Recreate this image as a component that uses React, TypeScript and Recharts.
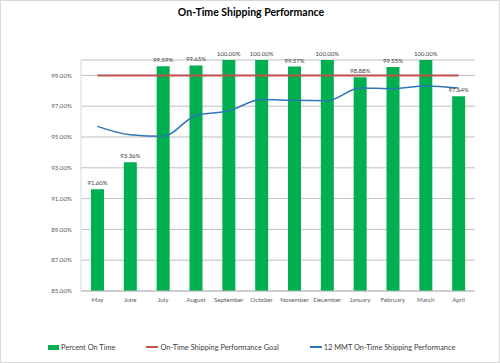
import React from "react";
import {
  Bar,
  CartesianGrid,
  ComposedChart,
  LabelList,
  Legend,
  Line,
  XAxis,
  YAxis,
} from "recharts";

const months = ["May", "June", "July", "August", "September", "October", "November", "December", "January", "February", "March", "April"];
const percentOnTime = [91.6, 93.36, 99.59, 99.65, 100, 100, 99.57, 100, 98.88, 99.55, 100, 97.64];
const goal = [99, 99, 99, 99, 99, 99, 99, 99, 99, 99, 99, 99];
const mmt12 = [95.69, 95.15, 95.05, 96.4, 96.7, 97.44, 97.38, 97.36, 98.18, 98.14, 98.31, 98.18];
const yTicks = [85, 87, 89, 91, 93, 95, 97, 99];

const data = months.map((month, i) => ({
  month,
  onTime: percentOnTime[i],
  goal: goal[i],
  mmt: mmt12[i],
}));

const font = "Lato, 'Open Sans', sans-serif";
const axisText = { fontSize: 6.2, fill: "#595959", fontFamily: font };

function LegendContent() {
  const item = (swatch: React.ReactNode, label: string) => (
    <div style={{ display: "flex", alignItems: "center", marginRight: 31 }}>
      {swatch}
      <span style={{ marginLeft: 2, fontSize: 7.4, color: "#404040", fontFamily: font }}>{label}</span>
    </div>
  );
  return (
    <div style={{ display: "flex", alignItems: "center", height: 20 }}>
      {item(<div style={{ width: 11, height: 5, background: "#00b050" }} />, "Percent On Time")}
      {item(<div style={{ width: 12, height: 2, background: "#c0504d" }} />, "On-Time Shipping Performance Goal")}
      {item(<div style={{ width: 12, height: 2, background: "#2e75b6" }} />, "12 MMT On-Time Shipping Performance")}
    </div>
  );
}

export default function App() {
  return (
    <div
      style={{
        position: "absolute",
        left: 0,
        top: 0,
        width: 500,
        height: 363,
        boxSizing: "border-box",
        border: "1px solid #d9d9d9",
        background: "#fff",
      }}
    >
      <div
        style={{
          position: "absolute",
          top: 5,
          left: 0,
          width: 500,
          textAlign: "center",
          fontFamily: font,
          fontWeight: 700,
          fontSize: 10.5,
          color: "#000",
        }}
      >
        On-Time Shipping Performance
      </div>
      <ComposedChart
        width={498}
        height={361}
        data={data}
        margin={{ top: 59, right: 24, left: 0, bottom: 5 }}
        barCategoryGap="60%"
      >
        <CartesianGrid stroke="#bfbfbf" vertical={false} />
        <XAxis
          dataKey="month"
          height={46}
          tick={axisText}
          tickLine={false}
          axisLine={{ stroke: "#bfbfbf" }}
          interval={0}
          tickMargin={1}
        />
        <YAxis
          domain={[85, 100]}
          ticks={yTicks}
          width={80}
          tick={axisText}
          tickFormatter={(v: number) => `${v.toFixed(2)}%`}
          tickLine={false}
          axisLine={{ stroke: "#d9d9d9" }}
          tickMargin={3}
        />
        <Legend
          verticalAlign="bottom"
          align="left"
          wrapperStyle={{ left: 47 }}
          content={() => <LegendContent />}
        />
        <Bar dataKey="onTime" fill="#00b050" barSize={13} isAnimationActive={false} name="Percent On Time">
          <LabelList
            dataKey="onTime"
            position="top"
            offset={4}
            formatter={(v: number) => `${v.toFixed(2)}%`}
            style={{ fontSize: 6, fill: "#404040", fontFamily: font }}
          />
        </Bar>
        <Line
          type="linear"
          dataKey="goal"
          stroke="#c0504d"
          strokeWidth={2}
          dot={false}
          isAnimationActive={false}
          name="On-Time Shipping Performance Goal"
        />
        <Line
          type="monotone"
          dataKey="mmt"
          stroke="#2e75b6"
          strokeWidth={1.5}
          dot={false}
          isAnimationActive={false}
          name="12 MMT On-Time Shipping Performance"
        />
      </ComposedChart>
    </div>
  );
}
